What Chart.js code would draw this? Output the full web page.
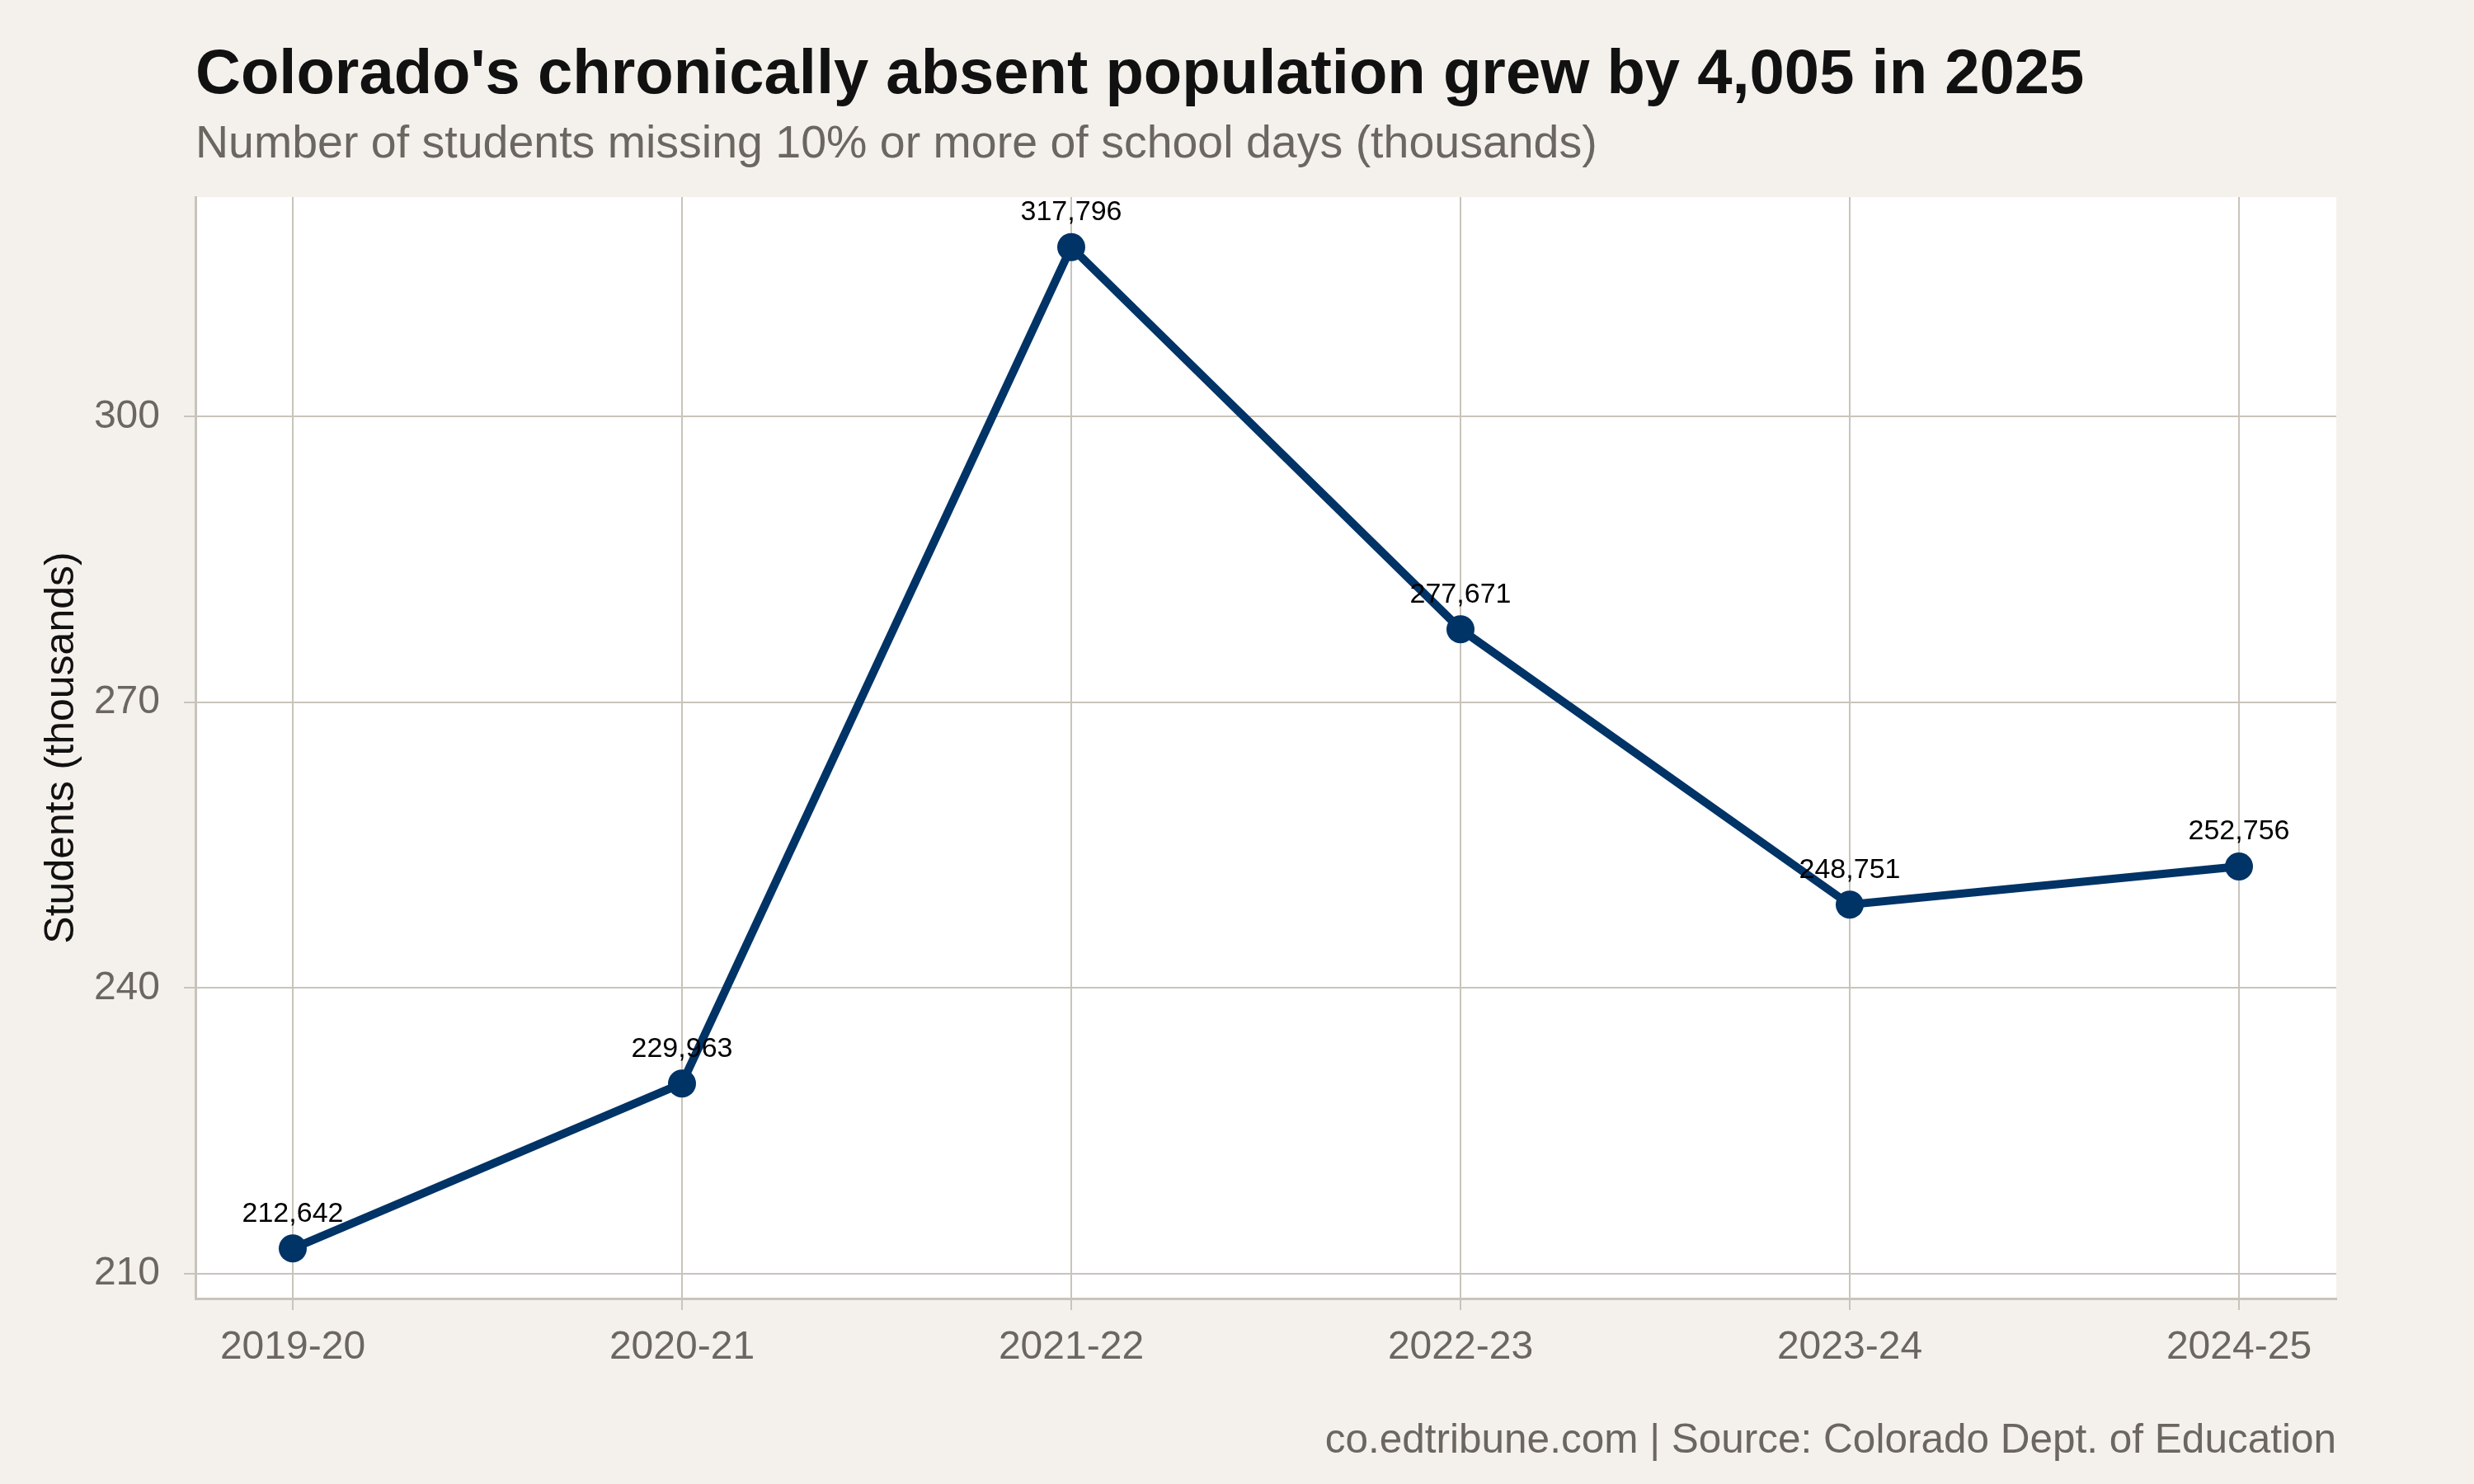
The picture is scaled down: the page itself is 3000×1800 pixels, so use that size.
<!DOCTYPE html>
<html>
<head>
<meta charset="utf-8">
<script src="https://cdn.jsdelivr.net/npm/chart.js@4"></script>
<style>
  html, body { margin: 0; padding: 0; background: #f4f1ec; }
  canvas { display: block; }
</style>
</head>
<body>
<canvas id="chart" width="3000" height="1800"></canvas>
<script>
const seasons = ["2019-20", "2020-21", "2021-22", "2022-23", "2023-24", "2024-25"];
const students = [212642, 229963, 317796, 277671, 248751, 252756];
const yTicks = [210, 240, 270, 300];

const TITLE = "Colorado's chronically absent population grew by 4,005 in 2025";
const SUBTITLE = "Number of students missing 10% or more of school days (thousands)";
const CAPTION = "co.edtribune.com | Source: Colorado Dept. of Education";

const NAVY = "#003366";
const GRID = "#c9c4bb";
const GREY_TEXT = "#6b6760";
const FONT = "'Liberation Sans', Arial, Helvetica, sans-serif";

const thousands = students.map(v => v / 1000);
const lo = Math.min(...thousands);
const hi = Math.max(...thousands);
const pad = (hi - lo) * 0.05;

// white panel behind the plot + headings and caption
const frame = {
  id: "frame",
  beforeDraw(chart) {
    const { ctx, chartArea: a } = chart;
    ctx.save();
    ctx.fillStyle = "#ffffff";
    ctx.fillRect(a.left, a.top, a.right - a.left, a.bottom - a.top);
    ctx.restore();
  },
  afterDraw(chart) {
    const { ctx, chartArea: a } = chart;
    ctx.save();
    ctx.textBaseline = "alphabetic";
    ctx.textAlign = "left";
    ctx.fillStyle = "#111111";
    ctx.font = `bold 76px ${FONT}`;
    ctx.fillText(TITLE, a.left, 113);
    ctx.fillStyle = GREY_TEXT;
    ctx.font = `55.5px ${FONT}`;
    ctx.fillText(SUBTITLE, a.left, 191);
    ctx.textAlign = "right";
    ctx.font = `49.5px ${FONT}`;
    ctx.fillText(CAPTION, a.right, 1762);
    ctx.restore();
  }
};

// value labels above each point
const pointLabels = {
  id: "pointLabels",
  afterDatasetsDraw(chart) {
    const { ctx } = chart;
    const meta = chart.getDatasetMeta(0);
    ctx.save();
    ctx.fillStyle = "#000000";
    ctx.font = `34px ${FONT}`;
    ctx.textAlign = "center";
    ctx.textBaseline = "middle";
    meta.data.forEach((pt, i) => {
      ctx.fillText(students[i].toLocaleString("en-US"), pt.x, pt.y - 42);
    });
    ctx.restore();
  }
};

new Chart(document.getElementById("chart"), {
  type: "line",
  data: {
    datasets: [{
      data: thousands.map((v, i) => ({ x: i, y: v })),
      borderColor: NAVY,
      borderWidth: 10,
      pointRadius: 17,
      pointBackgroundColor: NAVY,
      pointBorderWidth: 0,
      tension: 0,
      clip: false
    }]
  },
  options: {
    responsive: false,
    devicePixelRatio: 1,
    animation: false,
    layout: { padding: { top: 239, right: 167, bottom: 0, left: 0 } },
    plugins: {
      legend: { display: false },
      tooltip: { enabled: false }
    },
    scales: {
      x: {
        type: "linear",
        min: -0.25,
        max: seasons.length - 0.75,
        afterBuildTicks: s => { s.ticks = seasons.map((_, i) => ({ value: i })); },
        afterFit: s => { s.height = 225; },
        ticks: {
          callback: v => seasons[v],
          color: GREY_TEXT,
          font: { family: FONT, size: 48 },
          padding: 17,
          maxRotation: 0,
          autoSkip: false
        },
        grid: {
          color: GRID,
          lineWidth: 2,
          tickLength: 14,
          tickColor: GRID,
          tickWidth: 2
        },
        border: { color: GRID, width: 3 }
      },
      y: {
        min: lo - pad,
        max: hi + pad,
        afterBuildTicks: s => { s.ticks = yTicks.map(v => ({ value: v })); },
        afterFit: s => { s.width = 237; },
        ticks: {
          callback: v => v,
          color: GREY_TEXT,
          font: { family: FONT, size: 48 },
          padding: 29
        },
        grid: {
          color: GRID,
          lineWidth: 2,
          tickLength: 14,
          tickColor: GRID,
          tickWidth: 2
        },
        border: { color: GRID, width: 3 },
        title: {
          display: true,
          text: "Students (thousands)",
          color: "#111111",
          font: { family: FONT, size: 50 },
          padding: { top: 45, bottom: 0 }
        }
      }
    }
  },
  plugins: [frame, pointLabels]
});
</script>
</body>
</html>
